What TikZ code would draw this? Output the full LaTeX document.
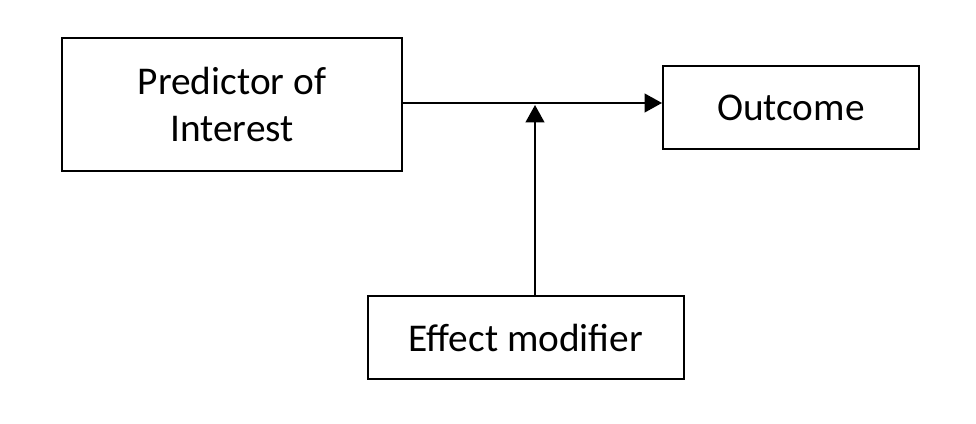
\documentclass[tikz,border=0pt]{standalone}
\usepackage{fontspec}
\setmainfont{Carlito}
\usetikzlibrary{arrows.meta,calc}

\begin{document}
\begin{tikzpicture}[x=0.75pt,y=-0.75pt]
\tikzset{box/.style={draw,line width=1.5pt,align=center,inner sep=0pt,
    font=\fontsize{29.5}{35}\selectfont},
  arr/.style={line width=1.5pt,-{Triangle[length=13pt,width=14pt]}}}

\useasboundingbox (0,0) rectangle (976,424);

% Define the boxes.
\node[box,minimum width=255pt,minimum height=99.75pt] (pred) at (232,104.5) {Predictor of\\Interest};
\node[box,minimum width=192pt,minimum height=62.25pt] (out) at (791,107.5) {Outcome};
\node[box,minimum width=237pt,minimum height=62.25pt] (eff) at (526,337.5) {Effect modifier};

\coordinate (j) at (535,105);

\draw[arr] ($(pred.east)+(0,-1.5)$) -- ($(pred.east -| out.west)+(0,-1.5)$);
\draw[arr] (j |- eff.north) -- (j);

\end{tikzpicture}
\end{document}
